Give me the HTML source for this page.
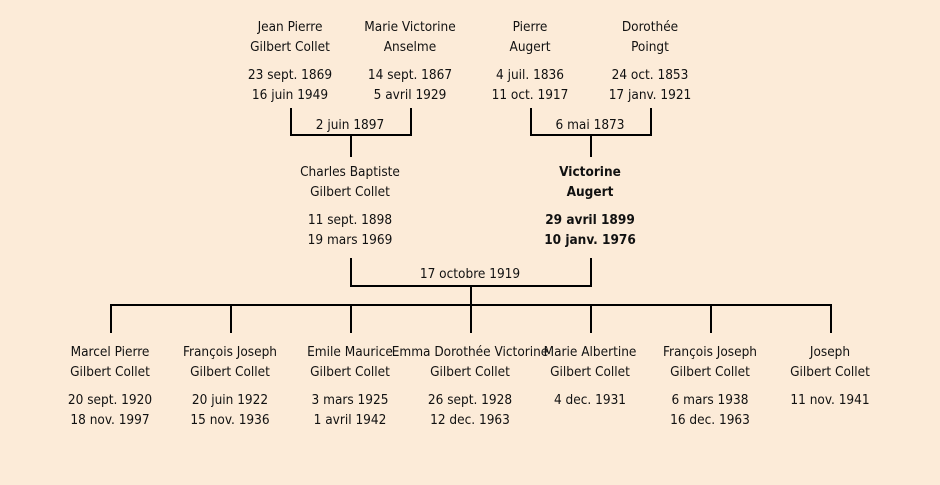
<!DOCTYPE html>
<html><head><meta charset="utf-8"><style>
body{margin:0;width:940px;height:485px;background:#fcebd8;position:relative;overflow:hidden;font-family:"DejaVu Sans Condensed","Liberation Sans",sans-serif;font-size:13.5px;color:#111}
.t{position:absolute;width:200px;text-align:center;white-space:nowrap;line-height:16px}
.b{font-weight:bold}
svg{position:absolute;left:0;top:0}
</style></head><body>
<svg width="940" height="485">
<g stroke="#000" stroke-width="2" fill="none">
<polyline points="291,108 291,135 411,135 411,108"/><line x1="351" y1="135" x2="351" y2="157"/>
<polyline points="531,108 531,135 651,135 651,108"/><line x1="591" y1="135" x2="591" y2="157"/>
<polyline points="351,258 351,286 591,286 591,258"/><line x1="471" y1="286" x2="471" y2="305"/>
<line x1="110" y1="305" x2="832" y2="305"/>
<line x1="111" y1="305" x2="111" y2="333"/><line x1="231" y1="305" x2="231" y2="333"/>
<line x1="351" y1="305" x2="351" y2="333"/><line x1="471" y1="305" x2="471" y2="333"/>
<line x1="591" y1="305" x2="591" y2="333"/><line x1="711" y1="305" x2="711" y2="333"/>
<line x1="831" y1="305" x2="831" y2="333"/>
</g></svg>

<div class="t" style="left:190px;top:19px">Jean Pierre</div>
<div class="t" style="left:190px;top:39px">Gilbert Collet</div>
<div class="t" style="left:190px;top:67px">23 sept. 1869</div>
<div class="t" style="left:190px;top:87px">16 juin 1949</div>
<div class="t" style="left:310px;top:19px">Marie Victorine</div>
<div class="t" style="left:310px;top:39px">Anselme</div>
<div class="t" style="left:310px;top:67px">14 sept. 1867</div>
<div class="t" style="left:310px;top:87px">5 avril 1929</div>
<div class="t" style="left:430px;top:19px">Pierre</div>
<div class="t" style="left:430px;top:39px">Augert</div>
<div class="t" style="left:430px;top:67px">4 juil. 1836</div>
<div class="t" style="left:430px;top:87px">11 oct. 1917</div>
<div class="t" style="left:550px;top:19px">Dorothée</div>
<div class="t" style="left:550px;top:39px">Poingt</div>
<div class="t" style="left:550px;top:67px">24 oct. 1853</div>
<div class="t" style="left:550px;top:87px">17 janv. 1921</div>
<div class="t" style="left:250px;top:117px">2 juin 1897</div>
<div class="t" style="left:490px;top:117px">6 mai 1873</div>

<div class="t" style="left:250px;top:164px">Charles Baptiste</div>
<div class="t" style="left:250px;top:184px">Gilbert Collet</div>
<div class="t" style="left:250px;top:212px">11 sept. 1898</div>
<div class="t" style="left:250px;top:232px">19 mars 1969</div>
<div class="t b" style="left:490px;top:164px">Victorine</div>
<div class="t b" style="left:490px;top:184px">Augert</div>
<div class="t b" style="left:490px;top:212px">29 avril 1899</div>
<div class="t b" style="left:490px;top:232px">10 janv. 1976</div>
<div class="t" style="left:370px;top:266px">17 octobre 1919</div>

<div class="t" style="left:10px;top:344px">Marcel Pierre</div>
<div class="t" style="left:10px;top:364px">Gilbert Collet</div>
<div class="t" style="left:10px;top:392px">20 sept. 1920</div>
<div class="t" style="left:10px;top:412px">18 nov. 1997</div>
<div class="t" style="left:130px;top:344px">François Joseph</div>
<div class="t" style="left:130px;top:364px">Gilbert Collet</div>
<div class="t" style="left:130px;top:392px">20 juin 1922</div>
<div class="t" style="left:130px;top:412px">15 nov. 1936</div>
<div class="t" style="left:250px;top:344px">Emile Maurice</div>
<div class="t" style="left:250px;top:364px">Gilbert Collet</div>
<div class="t" style="left:250px;top:392px">3 mars 1925</div>
<div class="t" style="left:250px;top:412px">1 avril 1942</div>
<div class="t" style="left:370px;top:344px">Emma Dorothée Victorine</div>
<div class="t" style="left:370px;top:364px">Gilbert Collet</div>
<div class="t" style="left:370px;top:392px">26 sept. 1928</div>
<div class="t" style="left:370px;top:412px">12 dec. 1963</div>
<div class="t" style="left:490px;top:344px">Marie Albertine</div>
<div class="t" style="left:490px;top:364px">Gilbert Collet</div>
<div class="t" style="left:490px;top:392px">4 dec. 1931</div>
<div class="t" style="left:610px;top:344px">François Joseph</div>
<div class="t" style="left:610px;top:364px">Gilbert Collet</div>
<div class="t" style="left:610px;top:392px">6 mars 1938</div>
<div class="t" style="left:610px;top:412px">16 dec. 1963</div>
<div class="t" style="left:730px;top:344px">Joseph</div>
<div class="t" style="left:730px;top:364px">Gilbert Collet</div>
<div class="t" style="left:730px;top:392px">11 nov. 1941</div>
</body></html>
